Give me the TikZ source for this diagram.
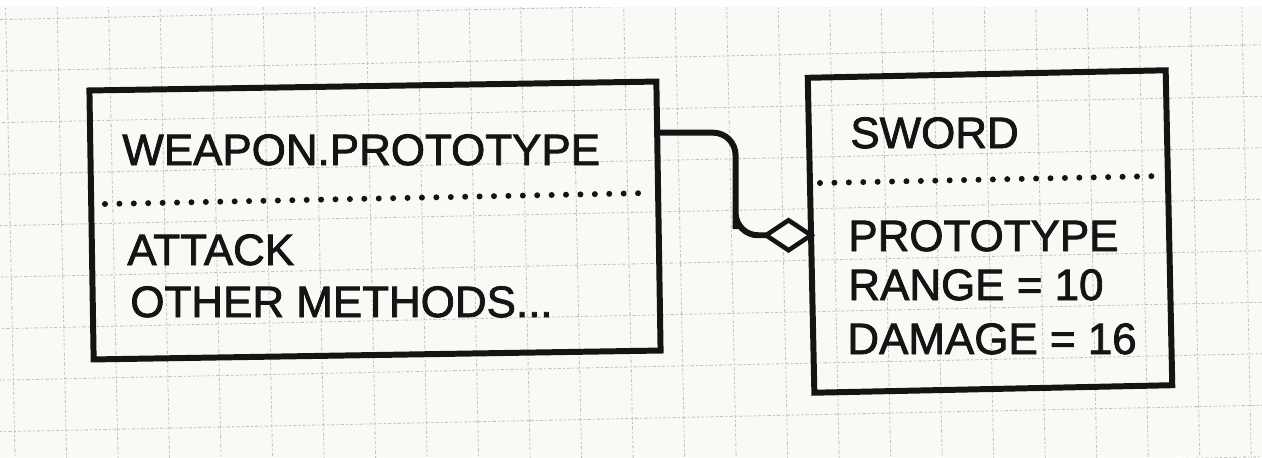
\documentclass[tikz,border=0pt]{standalone}
\usepackage{fontspec}
\setmainfont{Liberation Sans}
\newfontfamily\markerfont[FakeBold=1.8]{Liberation Sans}
\usetikzlibrary{shapes.geometric, calc}

\definecolor{paper}{HTML}{FAF9F5}
\definecolor{ink}{HTML}{141414}
\definecolor{gridgray}{HTML}{C2C2C2}

\begin{document}
\begin{tikzpicture}[
    classbox/.style={draw=ink, line width=3.4pt, rectangle, inner sep=0pt, outer sep=0pt},
    entry/.style={anchor=base west, inner sep=0pt, text=ink, font=\markerfont\fontsize{25}{30}\selectfont},
    divider/.style={ink, line width=3.4pt, line cap=round, dash pattern=on 0pt off 8.2pt},
    link/.style={ink, line width=3.4pt, rounded corners=0.45cm},
    aggregation/.style={diamond, draw=ink, fill=paper, line width=2.6pt, minimum width=0.9cm, minimum height=0.6cm, inner sep=0pt, outer sep=0pt},
    gridline/.style={gridgray, line width=0.5pt, dash pattern=on 2pt off 1.2pt on 1pt off 1.2pt}
]
    % Paper and grid
    \useasboundingbox (0,0) rectangle (25.24,9.14);
    \fill[white] (0,0) rectangle (25.24,9.14);
    \fill[paper] (0,0) rectangle (25.24,9.0);
    \begin{scope}
        \clip (0,0) rectangle (25.24,9.0);
        \begin{scope}[shift={(12.56,4.89)}, rotate=1.2]
            \draw[gridline, step=1.03] (-14,-7) grid (14,6);
        \end{scope}
    \end{scope}

    % --- Classes ---
    \node[classbox, minimum width=11.34cm, minimum height=5.38cm, rotate=0.9] (weapon) at (7.50,4.73) {};
    \node[classbox, minimum width=7.16cm, minimum height=6.30cm, rotate=1.2] (sword) at (19.80,4.51) {};

    % Separators between name and members
    \draw[divider] (2.10,5.06) -- (13.00,5.28);
    \draw[divider] (16.40,5.48) -- (23.20,5.62);

    % Left class
    \node[entry] (weaponname) at (2.44,5.84) {WEAPON.PROTOTYPE};
    \node[entry] (attack) at (2.54,3.84) {ATTACK};
    \node[entry] (others) at (2.60,2.80) {OTHER METHODS...};

    % Right class
    \node[entry] (swordname) at (17.00,6.18) {SWORD};
    \node[entry] (proto) at (16.96,4.12) {PROTOTYPE};
    \node[entry] (range) at (16.96,3.14) {RANGE = 10};
    \node[entry] (damage) at (16.94,2.06) {DAMAGE = 16};

    % --- Link with diamond end ---
    \node[aggregation, anchor=east] (diamond) at (sword.west) {};
    \coordinate (start) at ($(weapon.north east)!0.19!(weapon.south east)$);
    \coordinate (bend) at ($(start)!0.72!(diamond.west)$);
    \draw[link] (start) -| (bend) |- (diamond.west);

\end{tikzpicture}
\end{document}
